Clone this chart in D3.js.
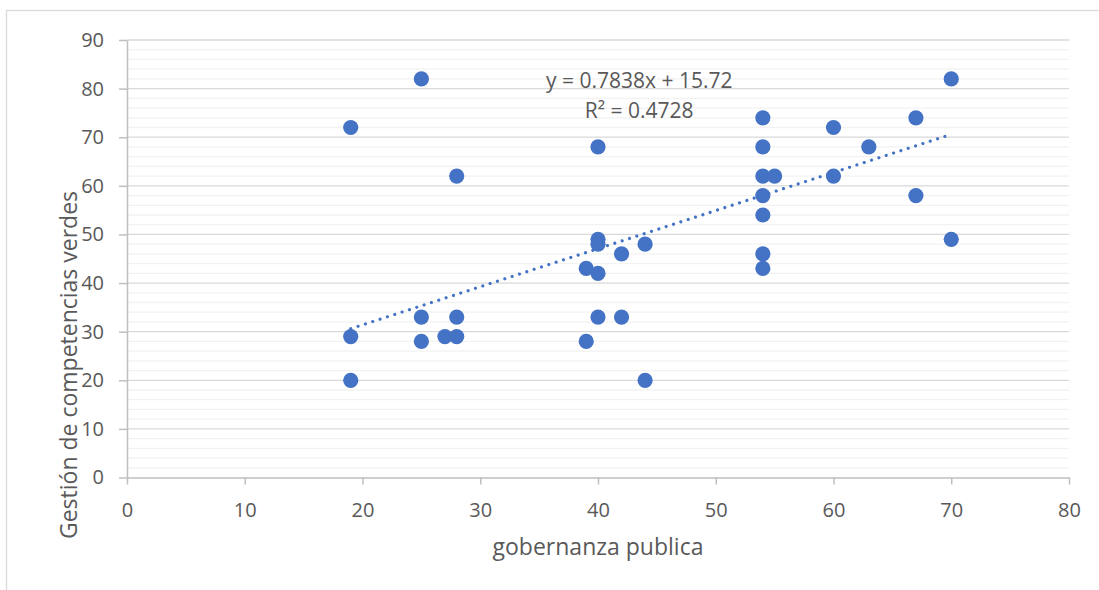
<!DOCTYPE html>
<html>
<head>
<meta charset="utf-8">
<script src="https://cdn.jsdelivr.net/npm/d3@7"></script>
<style>
  html, body { margin: 0; padding: 0; background: #fff; }
  svg { display: block; }
  text { font-family: "Open Sans", "Noto Sans", sans-serif; fill: #595959; }
</style>
</head>
<body>
<svg id="chart" width="1099" height="590"></svg>
<script>
// ---- Data ----
const gobernanza = [19, 25, 28, 40, 54, 54, 54, 55, 54, 54, 54, 54, 60, 60, 63, 67, 67, 70, 70,
                    19, 19, 25, 25, 27, 28, 28, 39, 40, 40, 40, 42, 44, 40, 42, 39, 44];
const gestion    = [72, 82, 62, 68, 74, 68, 62, 62, 58, 54, 46, 43, 72, 62, 68, 74, 58, 82, 49,
                    29, 20, 33, 28, 29, 33, 29, 43, 42, 49, 48, 46, 48, 33, 33, 28, 20];
const xTicks = [0, 10, 20, 30, 40, 50, 60, 70, 80];
const yTicks = [0, 10, 20, 30, 40, 50, 60, 70, 80, 90];
const trendSlope = 0.7838;
const trendIntercept = 15.72;
const equationLines = ["y = 0.7838x + 15.72", "R² = 0.4728"];
const xTitle = "gobernanza publica";
const yTitle = "Gestión de competencias verdes";

// ---- Layout ----
const svg = d3.select("#chart");
const plot = { left: 127, right: 1069, top: 40, bottom: 477.5 };
const x = d3.scaleLinear().domain([0, 80]).range([plot.left, plot.right]);
const y = d3.scaleLinear().domain([0, 90]).range([plot.bottom, plot.top]);
const blue = "#4472C4";

// chart border
svg.append("rect")
  .attr("x", 6.5).attr("y", 10.5)
  .attr("width", 1200).attr("height", 700)
  .attr("fill", "none").attr("stroke", "#d9d9d9").attr("stroke-width", 1.3);

// minor gridlines (every 2)
const minor = d3.range(0, 91, 2).filter(v => v % 10 !== 0);
svg.append("g").selectAll("line").data(minor).join("line")
  .attr("x1", plot.left).attr("x2", plot.right)
  .attr("y1", d => y(d)).attr("y2", d => y(d))
  .attr("stroke", "#f2f2f2").attr("stroke-width", 1.3);

// major gridlines
svg.append("g").selectAll("line").data(yTicks.filter(v => v > 0)).join("line")
  .attr("x1", plot.left).attr("x2", plot.right)
  .attr("y1", d => y(d)).attr("y2", d => y(d))
  .attr("stroke", "#d9d9d9").attr("stroke-width", 1.3);

// axes
const yAxis = svg.append("g")
  .attr("transform", `translate(${plot.left},0)`)
  .call(d3.axisLeft(y).tickValues(yTicks).tickSize(8).tickPadding(15).tickSizeOuter(0));
const xAxis = svg.append("g")
  .attr("transform", `translate(0,${plot.bottom})`)
  .call(d3.axisBottom(x).tickValues(xTicks).tickSize(7).tickPadding(18).tickSizeOuter(0));
[yAxis, xAxis].forEach(g => {
  g.select(".domain").attr("stroke", "#bfbfbf").attr("stroke-width", 1.5);
  g.selectAll(".tick line").attr("stroke", "#bfbfbf").attr("stroke-width", 1.5);
  g.selectAll(".tick text").attr("font-size", 20).attr("fill", "#595959")
    .style("font-family", '"Open Sans", "Noto Sans", sans-serif');
});

// trendline
const xMin = d3.min(gobernanza), xMax = d3.max(gobernanza);
svg.append("line")
  .attr("x1", x(xMin)).attr("y1", y(trendSlope * xMin + trendIntercept))
  .attr("x2", x(xMax)).attr("y2", y(trendSlope * xMax + trendIntercept))
  .attr("stroke", blue).attr("stroke-width", 3.2)
  .attr("stroke-linecap", "round")
  .attr("stroke-dasharray", "0.01 7.7");

// points
svg.append("g").selectAll("circle").data(gobernanza).join("circle")
  .attr("cx", d => x(d))
  .attr("cy", (d, i) => y(gestion[i]))
  .attr("r", 7.6)
  .attr("fill", blue);

// equation label
const labelX = 43.5, labelY = [80.1, 73.9];
equationLines.forEach((t, i) => {
  svg.append("text")
    .attr("x", x(labelX)).attr("y", y(labelY[i]))
    .attr("text-anchor", "middle")
    .attr("font-size", 21)
    .text(t);
});

// axis titles
svg.append("text")
  .attr("x", (plot.left + plot.right) / 2).attr("y", 555)
  .attr("text-anchor", "middle").attr("font-size", 23)
  .text(xTitle);
svg.append("text")
  .attr("transform", `translate(77,365) rotate(-90)`)
  .attr("text-anchor", "middle").attr("font-size", 23)
  .text(yTitle);
</script>
</body>
</html>
